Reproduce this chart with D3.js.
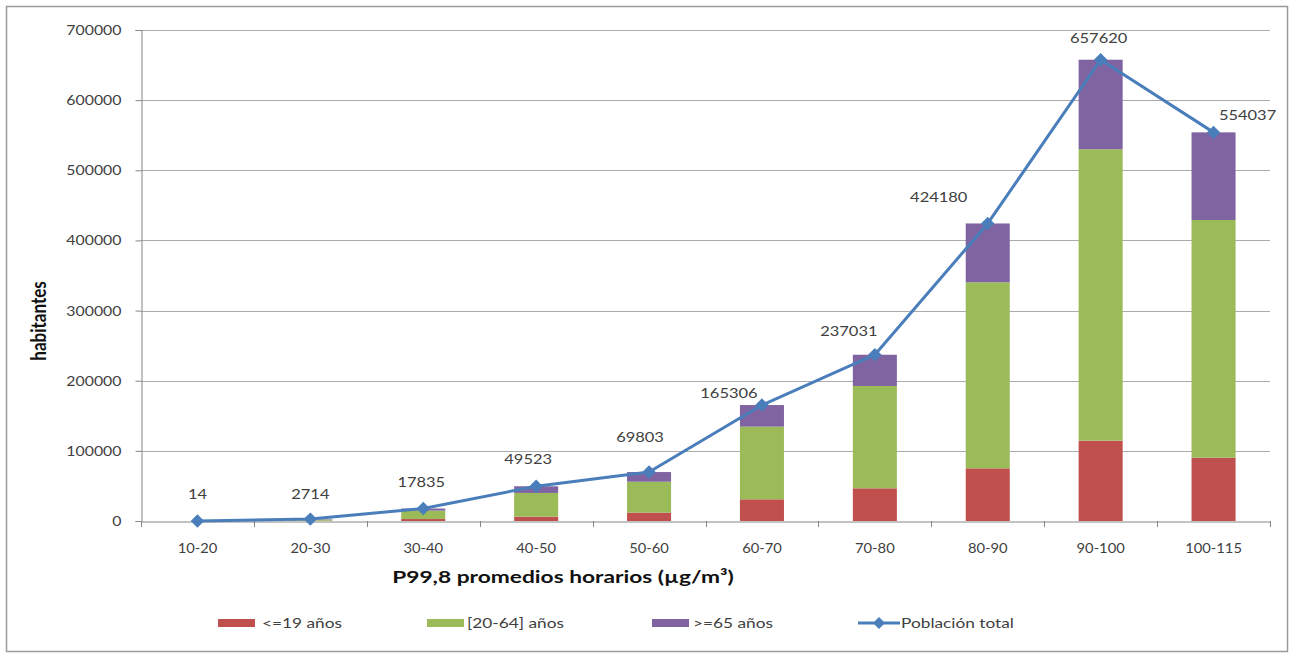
<!DOCTYPE html>
<html>
<head>
<meta charset="utf-8">
<script src="https://cdn.jsdelivr.net/npm/d3@7"></script>
<style>
  html, body { margin: 0; padding: 0; background: #ffffff; }
  svg { display: block; font-family: Lato, "Open Sans", sans-serif; }
</style>
</head>
<body>
<svg id="chart" width="1290" height="657"></svg>
<script>
// Population exposed by P99.8 hourly-average concentration band
const categories = ["10-20", "20-30", "30-40", "40-50", "50-60", "60-70", "70-80", "80-90", "90-100", "100-115"];
const under19 = [3, 500, 2800, 6200, 12000, 30900, 46600, 75100, 114500, 90200];
const adults = [8, 1700, 12000, 33800, 44000, 103600, 145900, 265200, 415500, 338900];
const over65 = [3, 514, 3035, 9523, 13803, 30806, 44531, 83880, 127620, 124937];
const totals = [14, 2714, 17835, 49523, 69803, 165306, 237031, 424180, 657620, 554037];
const yTicks = [0, 100000, 200000, 300000, 400000, 500000, 600000, 700000];
const seriesNames = ["<=19 años", "[20-64] años", ">=65 años", "Población total"];
const seriesKeys = ["under19", "adults", "over65"];
const colors = ["#C0504D", "#9BBB59", "#8064A2", "#4A7EBB"];

// label nudges (px) relative to each total point
const labelNudge = [[0, -27], [0, -25], [-2, -26], [-8, -27], [-9, -35], [-33, -12], [-26, -23], [-49, -26], [-2, -21], [34, -17]];

const SX = 1.22; // horizontal text stretch
const svg = d3.select("#chart");

// outer frame
svg.append("rect")
  .attr("x", 6.5).attr("y", 6.5).attr("width", 1281).attr("height", 645)
  .attr("fill", "#fff").attr("stroke", "#9a9a9a").attr("stroke-width", 1.5);

const plot = { left: 141, right: 1270, top: 30, bottom: 521 };

const x = d3.scaleBand().domain(categories).range([plot.left, plot.right]).padding(0);
const y = d3.scaleLinear().domain([0, 700000]).range([plot.bottom, plot.top]);
const barW = x.bandwidth() * 0.39;

function stretchedText(g, px, py, txt, opts) {
  return g.append("text")
    .attr("transform", `translate(${px},${py}) scale(${opts.sx || SX},1)`)
    .attr("text-anchor", opts.anchor || "middle")
    .attr("dy", "0.35em")
    .attr("font-size", opts.size || 13)
    .attr("font-weight", opts.weight || "normal")
    .attr("fill", opts.fill || "#404040")
    .text(txt);
}

// gridlines
svg.append("g")
  .selectAll("line")
  .data(yTicks.slice(1))
  .join("line")
  .attr("x1", plot.left).attr("x2", plot.right)
  .attr("y1", d => Math.round(y(d)) + 0.5).attr("y2", d => Math.round(y(d)) + 0.5)
  .attr("stroke", "#ababab").attr("stroke-width", 1);

// stacked bars
const rows = categories.map((c, i) => ({ cat: c, under19: under19[i], adults: adults[i], over65: over65[i] }));
const stacked = d3.stack().keys(seriesKeys)(rows);
svg.append("g")
  .selectAll("g")
  .data(stacked)
  .join("g")
  .attr("fill", (d, i) => colors[i])
  .selectAll("rect")
  .data(d => d)
  .join("rect")
  .attr("x", d => x(d.data.cat) + (x.bandwidth() - barW) / 2)
  .attr("width", barW)
  .attr("y", d => y(d[1]))
  .attr("height", d => Math.max(0, y(d[0]) - y(d[1])));

// y axis
const yAxis = svg.append("g")
  .attr("transform", `translate(${plot.left + 0.5},0)`)
  .call(d3.axisLeft(y).tickValues(yTicks).tickSize(6).tickFormat(d3.format("d")));
yAxis.select(".domain").attr("stroke", "#868686");
yAxis.selectAll(".tick line").attr("stroke", "#868686");
yAxis.selectAll(".tick text")
  .attr("x", 0).attr("dy", "0.35em")
  .attr("transform", `translate(-20,0) scale(${SX},1)`)
  .attr("font-size", 13).attr("fill", "#404040")
  .attr("font-family", "Lato, sans-serif");

// x axis
const xAxis = svg.append("g")
  .attr("transform", `translate(0,${plot.bottom + 0.5})`)
  .call(d3.axisBottom(x).tickSize(0).tickFormat(d => d));
xAxis.select(".domain").attr("stroke", "#868686");
xAxis.selectAll(".tick text")
  .attr("y", 0).attr("dy", "0.35em")
  .attr("transform", `translate(0,27) scale(1.18,1)`)
  .attr("font-size", 12.5).attr("fill", "#404040")
  .attr("font-family", "Lato, sans-serif");
// category separators
svg.append("g")
  .selectAll("line")
  .data(d3.range(categories.length + 1))
  .join("line")
  .attr("x1", i => Math.round(plot.left + i * x.bandwidth()) + 0.5)
  .attr("x2", i => Math.round(plot.left + i * x.bandwidth()) + 0.5)
  .attr("y1", plot.bottom).attr("y2", plot.bottom + 6)
  .attr("stroke", "#868686");

// total population line
const cx = c => x(c) + x.bandwidth() / 2;
const line = d3.line().x((d, i) => cx(categories[i])).y(d => y(d));
svg.append("path")
  .datum(totals)
  .attr("d", line)
  .attr("fill", "none")
  .attr("stroke", colors[3])
  .attr("stroke-width", 3)
  .attr("stroke-linejoin", "round");

// diamond markers: squares turned 45 degrees
const marker = d3.symbol().type(d3.symbolSquare).size(72);
svg.append("g")
  .selectAll("path")
  .data(totals)
  .join("path")
  .attr("d", marker)
  .attr("transform", (d, i) => `translate(${cx(categories[i])},${y(d)}) rotate(45)`)
  .attr("fill", colors[3])
  .attr("stroke", colors[3]);

// value labels
const labels = svg.append("g");
totals.forEach((v, i) => {
  stretchedText(labels, cx(categories[i]) + labelNudge[i][0], y(v) + labelNudge[i][1], String(v), { size: 13.5 });
});

// axis titles
svg.append("text")
  .attr("transform", `translate(39,321) rotate(-90) scale(1,1.25)`)
  .attr("text-anchor", "middle")
  .attr("dy", "0.35em")
  .attr("font-size", 17).attr("font-weight", "bold").attr("fill", "#111")
  .text("habitantes");
stretchedText(svg, 563, 577, "P99,8 promedios horarios (µg/m³)", { size: 17.5, weight: "bold", fill: "#111", sx: 1.3 });

// legend
const legend = svg.append("g");
const swatchX = [218, 427, 652];
const textX = [262, 467, 693, 901];
const legY = 623;
swatchX.forEach((sx, i) => {
  legend.append("rect")
    .attr("x", sx).attr("y", legY - 4).attr("width", 37).attr("height", 8)
    .attr("fill", colors[i]);
});
legend.append("line")
  .attr("x1", 858).attr("x2", 900).attr("y1", legY).attr("y2", legY)
  .attr("stroke", colors[3]).attr("stroke-width", 3);
legend.append("path")
  .attr("d", marker)
  .attr("transform", `translate(879,${legY}) rotate(45)`)
  .attr("fill", colors[3]);
seriesNames.forEach((name, i) => {
  stretchedText(legend, textX[i], legY, name, { size: 13.5, anchor: "start", sx: 1.28 });
});
</script>
</body>
</html>
